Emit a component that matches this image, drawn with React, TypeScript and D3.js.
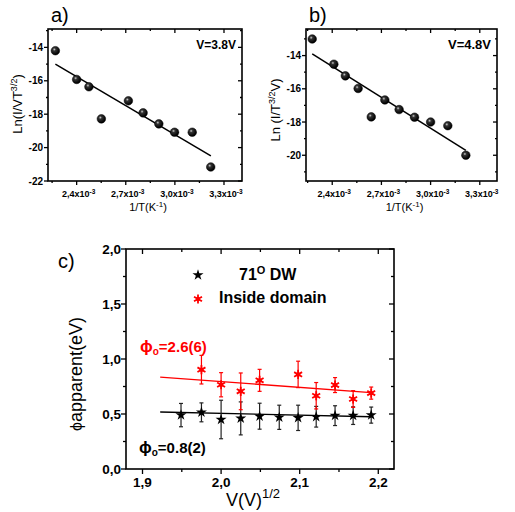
import React from 'react';
import * as d3 from 'd3';

// ---------- data ----------
// panel a (V = 3.8 V)
const aInvT = [2.27, 2.40, 2.475, 2.551, 2.716, 2.806, 2.902, 2.998, 3.106, 3.219];
const aLn = [-14.2, -15.92, -16.36, -18.28, -17.2, -17.92, -18.58, -19.08, -19.08, -21.16];
const aFitX = [2.27, 3.22];
const aFitY = [-15.0, -20.5];
// panel b (V = 4.8 V)
const bInvT = [2.278, 2.41, 2.48, 2.558, 2.638, 2.721, 2.808, 2.902, 3.0, 3.105, 3.215];
const bLn = [-13.0, -14.52, -15.22, -15.98, -17.69, -16.67, -17.25, -17.71, -18.0, -18.22, -20.0];
const bFitX = [2.278, 3.215];
const bFitY = [-13.9, -19.7];
// panel c
const dwX = [1.949, 1.975, 2.0, 2.025, 2.049, 2.074, 2.098, 2.121, 2.145, 2.168, 2.191];
const dwY = [0.49, 0.515, 0.45, 0.46, 0.48, 0.47, 0.465, 0.475, 0.485, 0.485, 0.49];
const dwErr = [0.106, 0.086, 0.175, 0.15, 0.118, 0.11, 0.115, 0.094, 0.09, 0.08, 0.073];
const inX = [1.975, 2.0, 2.025, 2.049, 2.098, 2.121, 2.145, 2.168, 2.191];
const inY = [0.903, 0.766, 0.706, 0.806, 0.86, 0.666, 0.763, 0.636, 0.69];
const inErr = [0.13, 0.11, 0.167, 0.1, 0.12, 0.12, 0.068, 0.076, 0.055];
const dwFitX = [1.9225, 2.191];
const dwFitY = [0.518, 0.475];
const inFitX = [1.9225, 2.191];
const inFitY = [0.836, 0.694];

const topXTicks = [2.4, 2.7, 3.0, 3.3];
const topXMinor = [2.25, 2.55, 2.85, 3.15];
const aYTicks = [-22, -20, -18, -16, -14];
const aYMinor = [-21, -19, -17, -15, -13];
const bYTicks = [-20, -18, -16, -14];
const bYMinor = [-21, -19, -17, -15, -13];
const cXTicks = [1.9, 2.0, 2.1, 2.2];
const cXMinor = [1.95, 2.05, 2.15];
const cYTicks = [0, 0.5, 1.0, 1.5, 2.0];
const cYMinor = [0.25, 0.75, 1.25, 1.75];

const FONT = 'Liberation Sans, Arial, sans-serif';
const comma = (v: number) => d3.format('.1f')(v).replace('.', ',');
const intLab = (v: number) => d3.format('d')(v).replace('\u2212', '-');

type Sc = d3.ScaleLinear<number, number>;

function Frame({ x, y, xt, xm, yt, ym, maj, min }: { x: Sc; y: Sc; xt: number[]; xm: number[]; yt: number[]; ym: number[]; maj: number; min: number }) {
  const [x0, x1] = x.range();
  const [y1, y0] = y.range();
  const els: React.ReactNode[] = [];
  xt.forEach((v, i) => {
    els.push(<line key={'xb' + i} x1={x(v)} x2={x(v)} y1={y1} y2={y1 + maj} />);
    els.push(<line key={'xt' + i} x1={x(v)} x2={x(v)} y1={y0} y2={y0 + maj} />);
  });
  xm.forEach((v, i) => {
    els.push(<line key={'xbm' + i} x1={x(v)} x2={x(v)} y1={y1} y2={y1 + min} />);
    els.push(<line key={'xtm' + i} x1={x(v)} x2={x(v)} y1={y0} y2={y0 + min} />);
  });
  yt.forEach((v, i) => {
    els.push(<line key={'yl' + i} x1={x0 - maj} x2={x0} y1={y(v)} y2={y(v)} />);
    els.push(<line key={'yr' + i} x1={x1 - maj} x2={x1} y1={y(v)} y2={y(v)} />);
  });
  ym.forEach((v, i) => {
    els.push(<line key={'ylm' + i} x1={x0 - min} x2={x0} y1={y(v)} y2={y(v)} />);
    els.push(<line key={'yrm' + i} x1={x1 - min} x2={x1} y1={y(v)} y2={y(v)} />);
  });
  return (
    <g stroke="#000" strokeWidth={1.3} fill="none">
      {els}
      <rect x={x0} y={y0} width={x1 - x0} height={y1 - y0} strokeWidth={1.6} />
    </g>
  );
}

function TopPanel({ x, y, xs, ys, fx, fy, yt, ym, vlabel, ylabel, letter }: any) {
  const [x0, x1] = x.range();
  const line = d3.line<number>().x((d, i) => x(fx[i])).y((d, i) => y(fy[i]));
  return (
    <g fontFamily={FONT}>
      <text x={x0 + 3} y={21.5} fontSize={20}>{letter}</text>
      <Frame x={x} y={y} xt={topXTicks} xm={topXMinor} yt={yt} ym={ym} maj={4} min={2} />
      <path d={line(fx) || ''} stroke="#000" strokeWidth={1.5} fill="none" />
      {xs.map((v: number, i: number) => (
        <circle key={i} cx={x(v)} cy={y(ys[i])} r={4.3} fill="url(#ball)" stroke="#000" strokeWidth={0.5} />
      ))}
      {topXTicks.map((v) => (
        <text key={v} x={x(v) + 2} y={197} fontSize={9} fontWeight="bold" textAnchor="middle">
          {comma(v)}x10<tspan dy={-3.5} fontSize={6.5}>-3</tspan>
        </text>
      ))}
      {yt.map((v: number) => (
        <text key={v} x={x0 - 5} y={y(v)} dy="0.35em" fontSize={10} fontWeight="bold" textAnchor="end">{intLab(v)}</text>
      ))}
      <text x={x1 - 6} y={48.5} fontSize={vlabel.size} fontWeight="bold" textAnchor="end">{vlabel.text}</text>
      <text x={(x0 + x1) / 2 + 3} y={211} fontSize={11} textAnchor="middle">
        1/T(K<tspan dy={-4} fontSize={8}>-1</tspan><tspan dy={4}>)</tspan>
      </text>
      {ylabel}
    </g>
  );
}

function AsteriskMarker({ cx, cy, color }: { cx: number; cy: number; color: string }) {
  const r = 4.6;
  const angs = [90, 30, 150];
  return (
    <g stroke={color} strokeWidth={1.8}>
      {angs.map((a) => {
        const t = (a * Math.PI) / 180;
        return <line key={a} x1={cx - r * Math.cos(t)} y1={cy - r * Math.sin(t)} x2={cx + r * Math.cos(t)} y2={cy + r * Math.sin(t)} />;
      })}
      <circle cx={cx} cy={cy} r={2.2} fill={color} stroke="none" />
    </g>
  );
}

export default function App() {
  const xA = d3.scaleLinear().domain([2.225, 3.41]).range([48, 242]);
  const yA = d3.scaleLinear().domain([-22, -12.9]).range([181, 29]);
  const xB = d3.scaleLinear().domain([2.24, 3.405]).range([306, 497]);
  const yB = d3.scaleLinear().domain([-21.55, -12.4]).range([181, 29]);
  const xC = d3.scaleLinear().domain([1.879, 2.22]).range([126, 394]);
  const yC = d3.scaleLinear().domain([0, 2]).range([469, 249]);
  const star = d3.symbol().type(d3.symbolStar).size(38)() || '';
  const lineC = (fx: number[], fy: number[]) => d3.line<number>().x((d, i) => xC(fx[i])).y((d, i) => yC(fy[i]))(fx) || '';

  return (
    <svg width={515} height={512} style={{ position: 'absolute', left: 0, top: 0, background: '#fff' }}>
      <defs>
        <radialGradient id="ball" cx="38%" cy="35%" r="60%">
          <stop offset="0%" stopColor="#cfcfcf" />
          <stop offset="30%" stopColor="#333" />
          <stop offset="100%" stopColor="#000" />
        </radialGradient>
      </defs>
      <rect width={515} height={512} fill="#fff" />
      <TopPanel x={xA} y={yA} xs={aInvT} ys={aLn} fx={aFitX} fy={aFitY} yt={aYTicks} ym={aYMinor} letter="a)"
        vlabel={{ text: 'V=3.8V', size: 12 }}
        ylabel={
          <text transform={`translate(22,104) rotate(-90)`} fontSize={13} textAnchor="middle">
            Ln(I/VT<tspan dy={-5} fontSize={9}>3/2</tspan><tspan dy={5}>)</tspan>
          </text>
        } />
      <TopPanel x={xB} y={yB} xs={bInvT} ys={bLn} fx={bFitX} fy={bFitY} yt={bYTicks} ym={bYMinor} letter="b)"
        vlabel={{ text: 'V=4.8V', size: 13 }}
        ylabel={
          <text transform={`translate(280,110) rotate(-90)`} fontSize={13} textAnchor="middle">
            Ln (I/T<tspan dy={-5} fontSize={9}>3/2</tspan><tspan dy={5}>V)</tspan>
          </text>
        } />

      {/* panel c */}
      <g fontFamily={FONT}>
        <text x={58} y={268} fontSize={20}>c)</text>
        <Frame x={xC} y={yC} xt={cXTicks} xm={cXMinor} yt={cYTicks} ym={cYMinor} maj={5} min={3} />
        {cXTicks.map((v) => (
          <text key={v} x={xC(v)} y={487} fontSize={13.5} fontWeight="bold" textAnchor="middle">{comma(v)}</text>
        ))}
        {cYTicks.map((v) => (
          <text key={v} x={121} y={yC(v)} dy="0.35em" fontSize={13.5} fontWeight="bold" textAnchor="end">{comma(v)}</text>
        ))}
        <path d={lineC(inFitX, inFitY)} stroke="#ff0000" strokeWidth={1.3} fill="none" />
        <path d={lineC(dwFitX, dwFitY)} stroke="#000" strokeWidth={1.3} fill="none" />
        {dwX.map((v, i) => {
          const cx = xC(v);
          return (
            <g key={'dw' + i} stroke="#222" strokeWidth={1.2}>
              <line x1={cx} x2={cx} y1={yC(dwY[i] + dwErr[i])} y2={yC(dwY[i] - dwErr[i])} />
              <line x1={cx - 2} x2={cx + 2} y1={yC(dwY[i] + dwErr[i])} y2={yC(dwY[i] + dwErr[i])} />
              <line x1={cx - 2} x2={cx + 2} y1={yC(dwY[i] - dwErr[i])} y2={yC(dwY[i] - dwErr[i])} />
              <path d={star} transform={`translate(${cx},${yC(dwY[i])})`} fill="#000" stroke="none" />
            </g>
          );
        })}
        {inX.map((v, i) => {
          const cx = xC(v);
          return (
            <g key={'in' + i}>
              <g stroke="#ff0000" strokeWidth={1.2}>
                <line x1={cx} x2={cx} y1={yC(inY[i] + inErr[i])} y2={yC(inY[i] - inErr[i])} />
                <line x1={cx - 2} x2={cx + 2} y1={yC(inY[i] + inErr[i])} y2={yC(inY[i] + inErr[i])} />
                <line x1={cx - 2} x2={cx + 2} y1={yC(inY[i] - inErr[i])} y2={yC(inY[i] - inErr[i])} />
              </g>
              <AsteriskMarker cx={cx} cy={yC(inY[i])} color="#ff0000" />
            </g>
          );
        })}
        {/* legend */}
        <path d={star} transform="translate(198,275)" fill="#000" />
        <text x={239} y={280} fontSize={16} fontWeight="bold">
          71<tspan dy={-6} fontSize={11}>O</tspan><tspan dy={6}> DW</tspan>
        </text>
        <AsteriskMarker cx={198} cy={299} color="#ff0000" />
        <text x={219} y={303} fontSize={16} fontWeight="bold">Inside domain</text>
        {/* annotations */}
        <text x={140} y={352} fontSize={15} fontWeight="bold" fill="#ff0000">
          <tspan fontSize={17}>ϕ</tspan><tspan dy={3} fontSize={10}>o</tspan><tspan dy={-3}>=2.6(6)</tspan>
        </text>
        <text x={139} y={453} fontSize={15} fontWeight="bold" fill="#000">
          <tspan fontSize={17}>ϕ</tspan><tspan dy={3} fontSize={10}>o</tspan><tspan dy={-3}>=0.8(2)</tspan>
        </text>
        {/* axis labels */}
        <text transform="translate(82,374) rotate(-90)" fontSize={18} textAnchor="middle">
          <tspan fontSize={16}>ϕ</tspan>apparent(eV)
        </text>
        <text x={226} y={506} fontSize={18}>
          V(V)<tspan dy={-8} fontSize={13}>1/2</tspan>
        </text>
      </g>
    </svg>
  );
}
